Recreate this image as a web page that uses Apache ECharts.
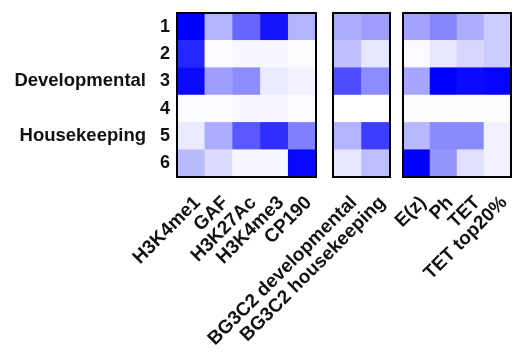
<!DOCTYPE html>
<html><head><meta charset="utf-8">
<script src="https://cdn.jsdelivr.net/npm/echarts@6/dist/echarts.min.js"></script>
<style>html,body{margin:0;padding:0;background:#fff}#c{width:514px;height:352px}</style>
</head><body><div id="c"></div>
<script>
const rows = ['1','2','3','4','5','6'];
const rowGroups = ['', '', 'Developmental', '', 'Housekeeping', ''];
const cols1 = ['H3K4me1','GAF','H3K27Ac','H3K4me3','CP190'];
const cols2 = ['BG3C2 developmental','BG3C2 housekeeping'];
const cols3 = ['E(z)','Ph','TET','TET top20%'];
// values per row (0 = white, 1 = full blue)
const vals1 = [
  [1.00, 0.30, 0.60, 0.92, 0.30],
  [0.85, 0.02, 0.03, 0.03, 0.01],
  [0.96, 0.38, 0.45, 0.08, 0.05],
  [0.02, 0.02, 0.03, 0.03, 0.02],
  [0.08, 0.32, 0.65, 0.82, 0.50],
  [0.27, 0.14, 0.03, 0.03, 0.97]
];
const vals2 = [
  [0.32, 0.38],
  [0.25, 0.10],
  [0.70, 0.45],
  [0.00, 0.00],
  [0.30, 0.76],
  [0.10, 0.26]
];
const vals3 = [
  [0.36, 0.47, 0.32, 0.20],
  [0.02, 0.10, 0.16, 0.20],
  [0.35, 1.00, 0.96, 0.98],
  [0.01, 0.01, 0.01, 0.01],
  [0.28, 0.46, 0.46, 0.05],
  [1.00, 0.42, 0.12, 0.05]
];

function toData(v){
  const d=[];
  v.forEach((r,i)=>r.forEach((x,j)=>d.push([j,i,x])));
  return d;
}
const font = {fontFamily:'Liberation Sans, Arial, sans-serif', fontWeight:'bold', fontSize:18, color:'#111'};
const grids = [
  {left:177, top:13, width:139, height:164},
  {left:333, top:13, width:57, height:164},
  {left:403, top:13, width:108, height:164}
].map(g=>Object.assign(g,{show:true, z:10, borderColor:'#000', borderWidth:2, backgroundColor:'transparent'}));
const colSets=[cols1,cols2,cols3];
const valSets=[vals1,vals2,vals3];
const option = {
  animation:false,
  grid: grids,
  xAxis: colSets.map((c,i)=>({type:'category', gridIndex:i, data:c, axisLine:{show:false}, axisTick:{show:false}, splitLine:{show:false},
    axisLabel:Object.assign({}, font, {rotate:45, margin:16, interval:0, fontSize:19, align:'right', verticalAlign:'top'})})),
  yAxis: colSets.map((c,i)=>({type:'category', gridIndex:i, data:rows, inverse:true, axisLine:{show:false}, axisTick:{show:false}, splitLine:{show:false},
    axisLabel:Object.assign({show:i===0, margin:7,
      formatter:(v,idx)=> (rowGroups[idx]? '{g|'+rowGroups[idx]+'}':'')+'{n|'+v+'}',
      rich:{g:Object.assign({}, font, {fontSize:18.5, padding:[0,14,0,0]}), n:Object.assign({}, font)}}, font)})),
  visualMap: {show:false, min:0, max:1, seriesIndex:[0,1,2], inRange:{color:['#ffffff','#0000ff']}},
  series: valSets.map((v,i)=>({type:'heatmap', xAxisIndex:i, yAxisIndex:i, data:toData(v), itemStyle:{borderWidth:0}, emphasis:{disabled:true}}))
};
echarts.init(document.getElementById('c')).setOption(option);
</script></body></html>
